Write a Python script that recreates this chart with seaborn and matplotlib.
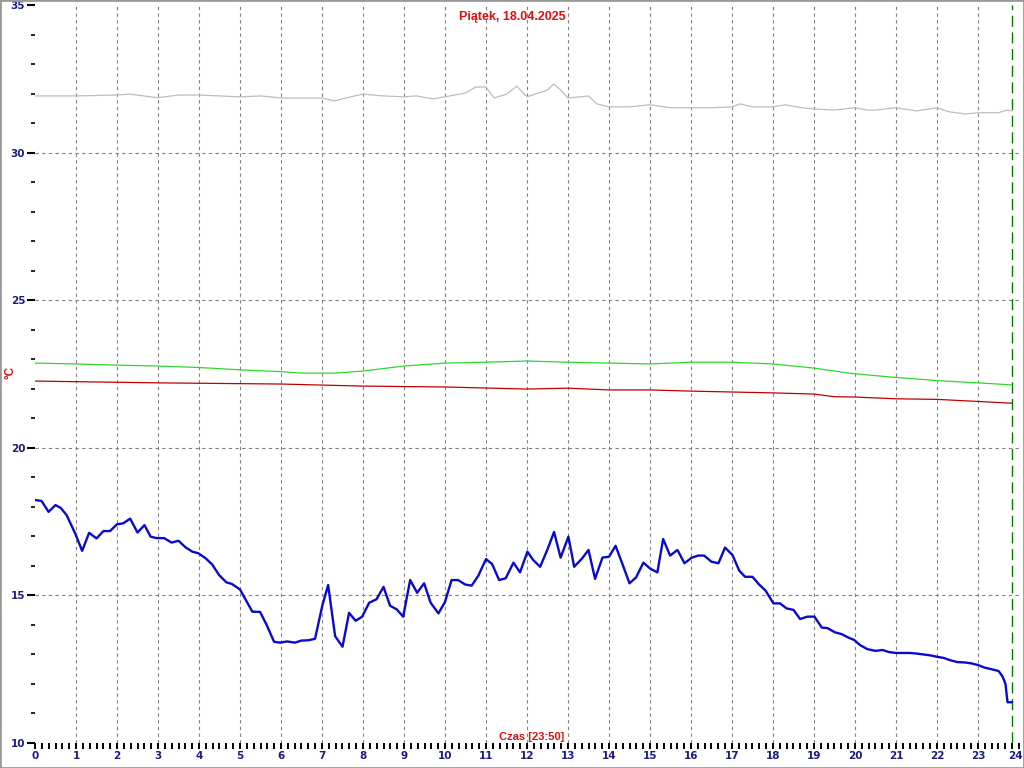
import matplotlib
matplotlib.use("Agg")
import matplotlib.pyplot as plt
from matplotlib.patches import Rectangle
from matplotlib.ticker import MultipleLocator
import matplotlib.transforms as mtransforms
import seaborn as sns
import pandas as pd

# ---- data ----
blue_t = [0.0, 0.16, 0.33, 0.5, 0.63, 0.77, 0.98, 1.15, 1.32, 1.5, 1.67, 1.83, 2.0, 2.15, 2.32, 2.5,
          2.67, 2.82, 2.97, 3.15, 3.33, 3.5, 3.68, 3.84, 3.98, 4.16, 4.32, 4.49, 4.67, 4.8, 5.0, 5.3,
          5.49, 5.65, 5.83, 5.98, 6.15, 6.34, 6.5, 6.67, 6.83, 7.01, 7.15, 7.32, 7.5, 7.66, 7.82, 7.98,
          8.15, 8.33, 8.5, 8.66, 8.82, 8.98, 9.15, 9.32, 9.49, 9.65, 9.84, 10.0, 10.16, 10.32, 10.49,
          10.65, 10.81, 11.0, 11.15, 11.32, 11.48, 11.67, 11.83, 12.01, 12.15, 12.32, 12.5, 12.66,
          12.82, 13.01, 13.15, 13.33, 13.5, 13.66, 13.84, 14.0, 14.16, 14.32, 14.5, 14.66, 14.84, 15.0,
          15.18, 15.32, 15.49, 15.67, 15.84, 16.02, 16.18, 16.32, 16.5, 16.67, 16.83, 17.01, 17.18,
          17.32, 17.5, 17.66, 17.82, 18.01, 18.17, 18.33, 18.5, 18.66, 18.84, 19.01, 19.19, 19.33,
          19.51, 19.67, 19.84, 19.98, 20.12, 20.3, 20.5, 20.67, 20.83, 21.0, 21.33, 21.5, 21.67, 21.83,
          22.0, 22.17, 22.33, 22.5, 22.67, 22.83, 23.0, 23.17, 23.33, 23.5, 23.6, 23.67, 23.72, 23.83]
blue_v = [18.23, 18.2, 17.83, 18.06, 17.96, 17.72, 17.1, 16.51, 17.12, 16.93, 17.18, 17.18, 17.41, 17.44,
          17.6, 17.13, 17.38, 16.99, 16.94, 16.94, 16.79, 16.85, 16.62, 16.48, 16.43, 16.26, 16.05, 15.69,
          15.44, 15.39, 15.2, 14.45, 14.44, 14.0, 13.43, 13.40, 13.44, 13.40, 13.47, 13.48, 13.53, 14.67,
          15.35, 13.62, 13.26, 14.41, 14.14, 14.28, 14.75, 14.87, 15.29, 14.65, 14.53, 14.28, 15.52, 15.09,
          15.41, 14.75, 14.39, 14.78, 15.52, 15.52, 15.37, 15.33, 15.66, 16.23, 16.06, 15.52, 15.58, 16.11,
          15.78, 16.48, 16.2, 15.97, 16.56, 17.15, 16.28, 16.99, 15.97, 16.23, 16.54, 15.56, 16.28, 16.31,
          16.68, 16.09, 15.41, 15.61, 16.11, 15.91, 15.78, 16.91, 16.35, 16.54, 16.09, 16.28, 16.35, 16.35,
          16.14, 16.09, 16.62, 16.37, 15.83, 15.63, 15.63, 15.37, 15.16, 14.73, 14.73, 14.56, 14.51, 14.2,
          14.28, 14.28, 13.91, 13.89, 13.75, 13.69, 13.57, 13.49, 13.32, 13.18, 13.12, 13.15, 13.08, 13.05,
          13.05, 13.03, 13.0, 12.97, 12.92, 12.88, 12.8, 12.74, 12.73, 12.7, 12.64, 12.55, 12.5, 12.44,
          12.25, 12.0, 11.38, 11.38]

gray_t = [0.0, 1.0, 2.0, 2.3, 3.0, 3.5, 4.0, 4.5, 5.0, 5.5, 6.0, 7.0, 7.3, 7.7, 8.0, 8.5, 9.0, 9.3, 9.7,
          10.0, 10.5, 10.75, 11.0, 11.2, 11.5, 11.75, 12.0, 12.5, 12.65, 12.8, 13.0, 13.3, 13.5, 13.7,
          14.0, 14.5, 15.0, 15.5, 16.0, 16.5, 17.0, 17.2, 17.5, 18.0, 18.3, 18.7, 19.0, 19.5, 20.0, 20.3,
          20.5, 21.0, 21.5, 22.0, 22.3, 22.7, 23.0, 23.5, 23.7, 23.83]
gray_v = [31.92, 31.92, 31.95, 31.98, 31.86, 31.95, 31.95, 31.92, 31.89, 31.92, 31.85, 31.85, 31.75,
          31.89, 31.98, 31.92, 31.89, 31.92, 31.82, 31.89, 32.02, 32.22, 32.22, 31.85, 31.98, 32.25, 31.89,
          32.12, 32.32, 32.15, 31.85, 31.89, 31.92, 31.65, 31.55, 31.55, 31.62, 31.52, 31.52, 31.52, 31.55,
          31.65, 31.55, 31.55, 31.62, 31.52, 31.48, 31.44, 31.52, 31.44, 31.44, 31.52, 31.41, 31.52, 31.38,
          31.31, 31.35, 31.35, 31.44, 31.41]

green_t = [0.0, 1.0, 2.0, 3.0, 4.0, 5.0, 6.0, 6.5, 7.3, 8.0, 9.0, 10.0, 11.0, 12.0, 13.0, 14.0, 15.0,
           16.0, 17.0, 18.0, 19.0, 19.9, 20.85, 22.07, 23.0, 23.83]
green_v = [22.87, 22.84, 22.8, 22.77, 22.72, 22.64, 22.58, 22.53, 22.53, 22.6, 22.77, 22.87, 22.9, 22.94,
           22.9, 22.87, 22.84, 22.9, 22.9, 22.84, 22.7, 22.52, 22.4, 22.27, 22.2, 22.13]

red_t = [0.0, 3.0, 6.0, 8.0, 10.0, 12.0, 13.0, 14.0, 15.0, 16.0, 17.0, 18.0, 19.0, 19.5, 20.0, 21.0,
         22.0, 23.0, 23.83]
red_v = [22.26, 22.2, 22.16, 22.09, 22.06, 21.99, 22.02, 21.96, 21.96, 21.92, 21.89, 21.86, 21.82, 21.73,
         21.72, 21.66, 21.64, 21.57, 21.51]

title = "Piątek, 18.04.2025"
xlabel_txt = "Czas [23:50]"
ylabel_txt = "°C"
now_hour = 23 + 50 / 60

# ---- plot ----
sns.set_theme(style="white")
plt.rcParams['font.family'] = ['Liberation Sans', 'DejaVu Sans']

fig = plt.figure(figsize=(10.24, 7.68), dpi=100)
ax = fig.add_axes([35 / 1024, 25 / 768, 984 / 1024, 738 / 768])

df_gray = pd.DataFrame({"t": gray_t, "v": gray_v})
df_green = pd.DataFrame({"t": green_t, "v": green_v})
df_red = pd.DataFrame({"t": red_t, "v": red_v})
df_blue = pd.DataFrame({"t": blue_t, "v": blue_v})

sns.lineplot(data=df_gray, x="t", y="v", ax=ax, color="#bdbdbd", linewidth=0.9, estimator=None, sort=False)
sns.lineplot(data=df_green, x="t", y="v", ax=ax, color="#2ed62e", linewidth=0.9, estimator=None, sort=False)
sns.lineplot(data=df_red, x="t", y="v", ax=ax, color="#c00000", linewidth=0.9, estimator=None, sort=False)
sns.lineplot(data=df_blue, x="t", y="v", ax=ax, color="#0a0acc", linewidth=1.7, estimator=None, sort=False)

ax.set_xlim(0, 24)
ax.set_ylim(10, 35)

for s in ax.spines.values():
    s.set_visible(False)

ax.xaxis.set_major_locator(MultipleLocator(1))
ax.xaxis.set_minor_locator(MultipleLocator(1 / 6))
ax.yaxis.set_major_locator(MultipleLocator(5))
ax.yaxis.set_minor_locator(MultipleLocator(1))

navy = "#1c1c80"
ax.tick_params(axis="x", which="both", direction="out", length=4, width=1.4, color="black",
               bottom=True, pad=2)
ax.tick_params(axis="x", which="major", labelsize=7.5, labelcolor=navy)
ax.tick_params(axis="y", which="major", direction="out", length=6, width=1.5, color="black",
               left=True, labelsize=7.5, labelcolor=navy, pad=1)
ax.tick_params(axis="y", which="minor", direction="out", length=3, width=1.2, color="black", left=True)
fig.canvas.draw()
xlabels = ax.get_xticklabels()
for lab in xlabels + ax.get_yticklabels():
    lab.set_fontweight("bold")
    lab.set_fontfamily("DejaVu Sans")
# nudge the last hour label ("24") slightly left so it stays inside the frame
for l in xlabels:
    if l.get_text() == "24":
        l.set_transform(l.get_transform() + mtransforms.ScaledTranslation(-4 / 100, 0, fig.dpi_scale_trans))

# grid
for h in range(1, 24):
    ax.axvline(h, color="#808080", linestyle=(0, (3, 3)), linewidth=0.8, zorder=0)
for yv in [15, 20, 25, 30]:
    ax.axhline(yv, color="#808080", linestyle=(0, (3, 3)), linewidth=0.8, zorder=0)
ax.axvline(now_hour, color="#007a00", linestyle=(0, (8, 4)), linewidth=1.0, zorder=1)

ax.set_xlabel("")
ax.set_ylabel("")
fig.text(512 / 1024, 1 - 17 / 768, title, ha="center", va="center",
         color="#e01010", fontsize=9, fontweight="bold")
fig.text(532 / 1024, 1 - 737 / 768, xlabel_txt, ha="center", va="center",
         color="#e01010", fontsize=8, fontweight="bold")
fig.text(10 / 1024, 1 - 372 / 768, ylabel_txt, rotation=90, ha="center", va="center",
         color="#e01010", fontsize=8.5, fontweight="bold")

fig.patches.append(Rectangle((0, 0), 1, 1, transform=fig.transFigure, fill=False,
                             edgecolor="#999999", linewidth=2))

fig.savefig("out.png", dpi=100)
